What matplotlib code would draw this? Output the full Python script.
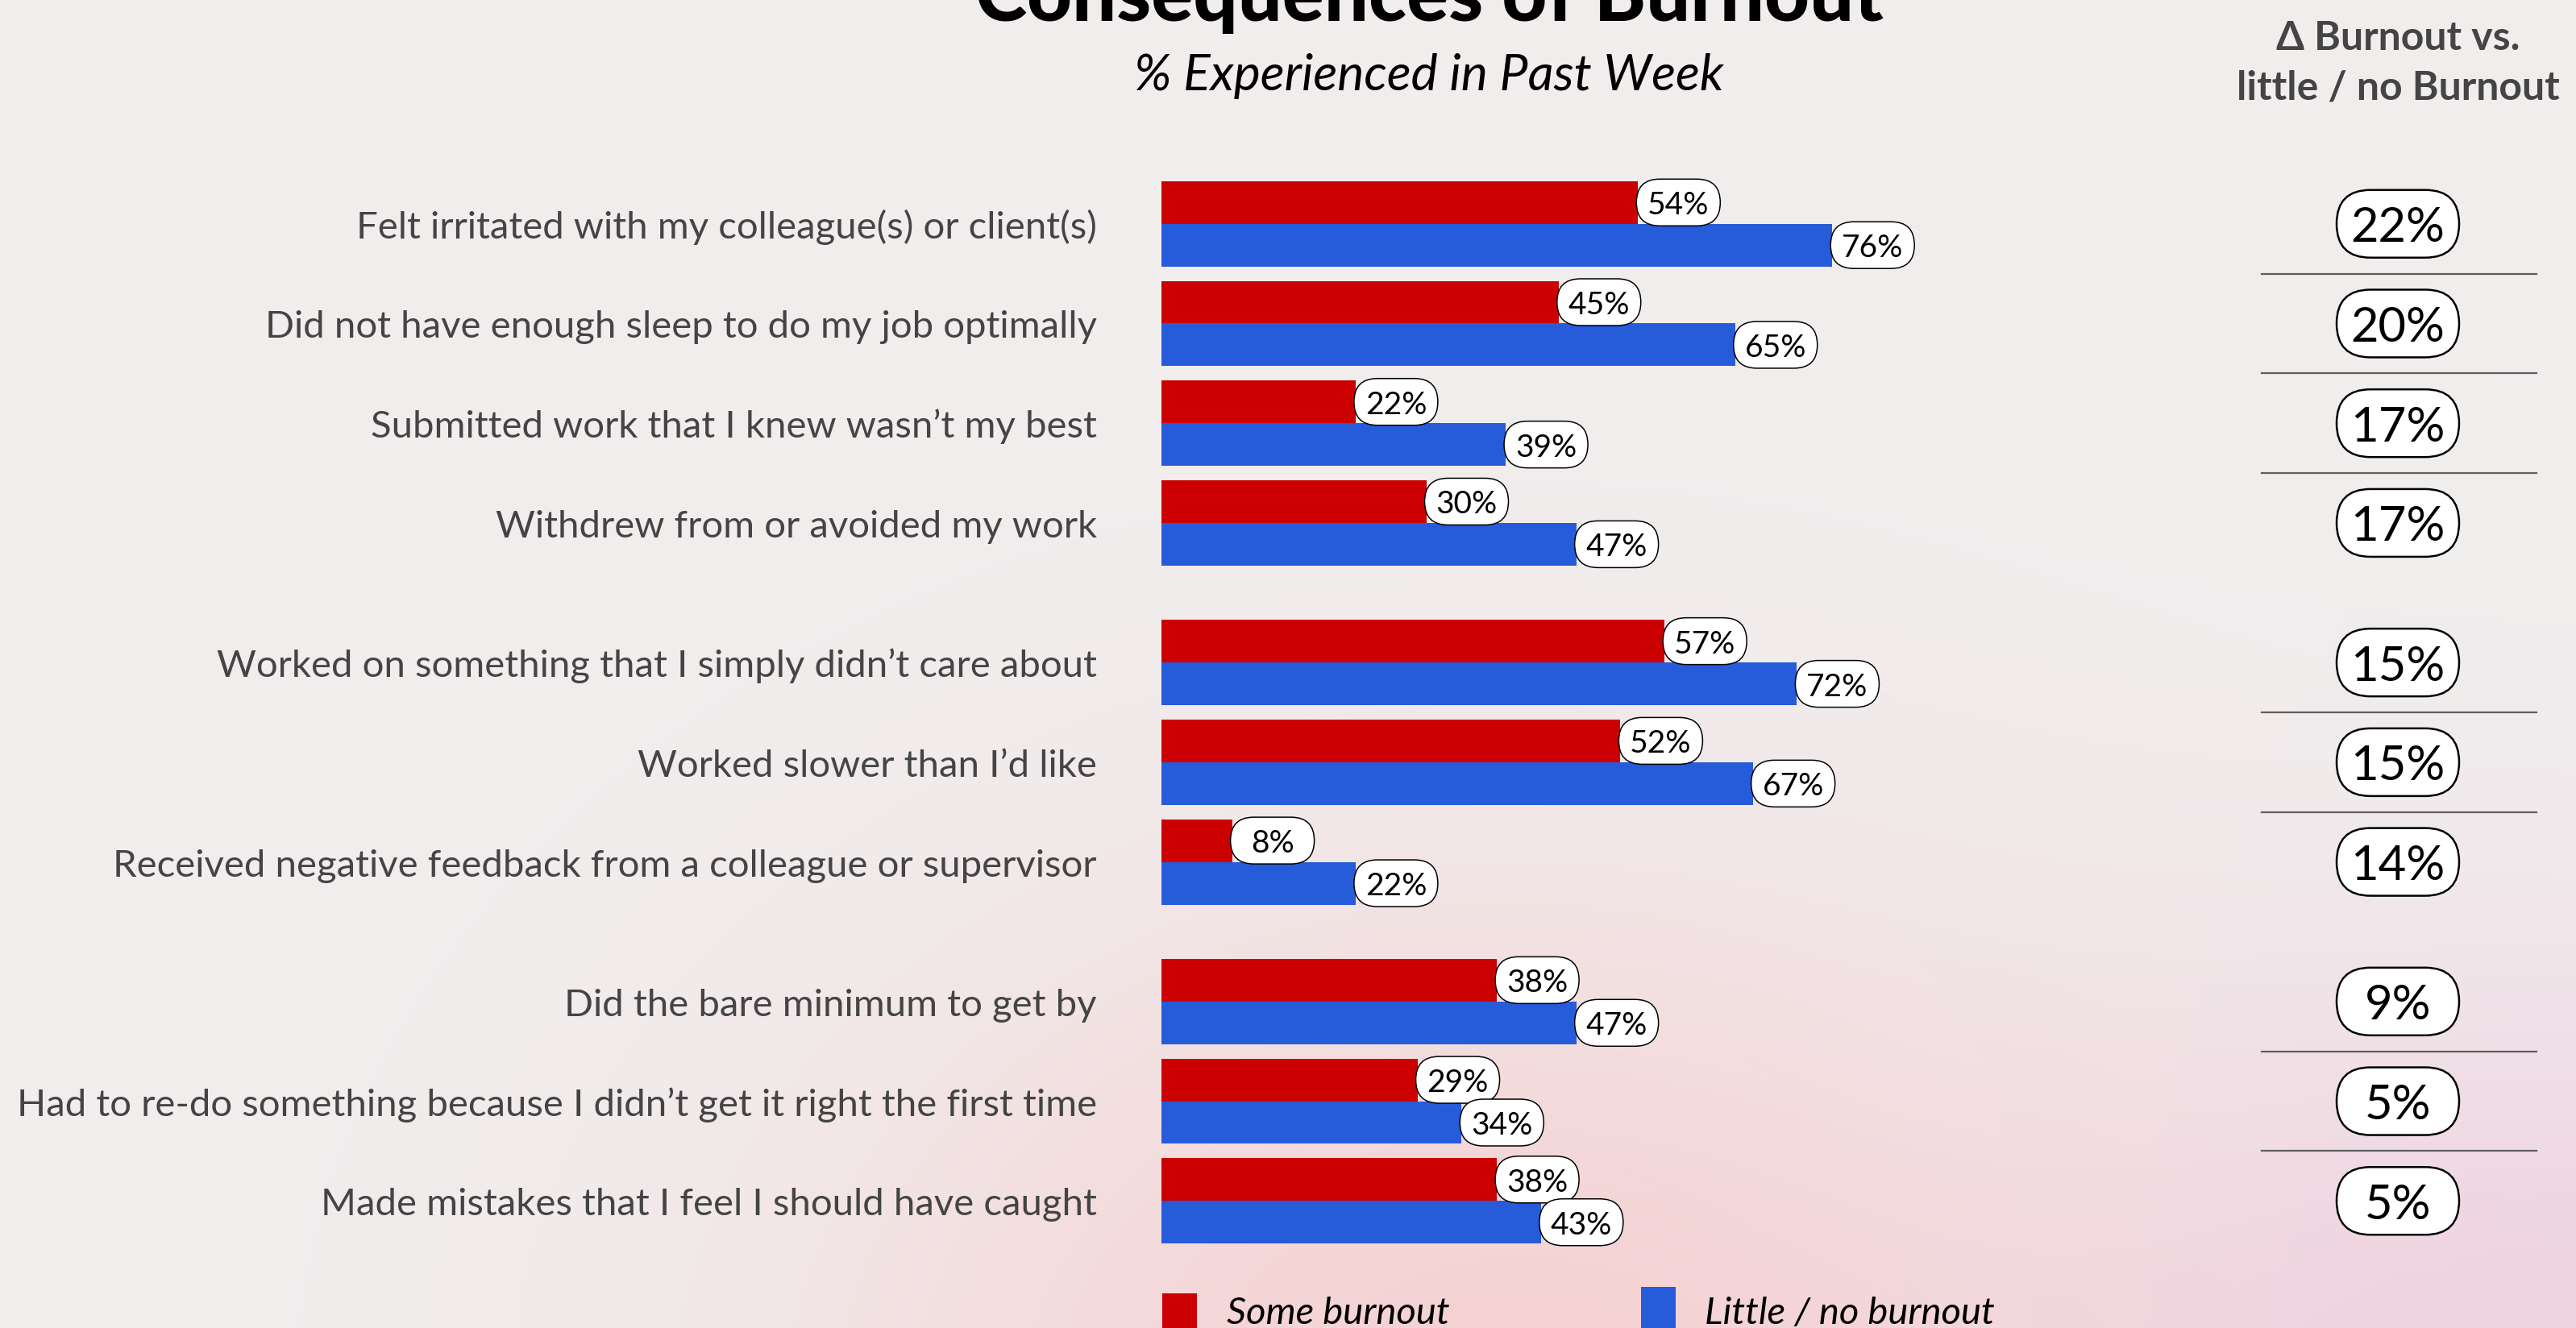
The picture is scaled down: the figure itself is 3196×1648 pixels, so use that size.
import numpy as np
import matplotlib
matplotlib.use("Agg")
import matplotlib.pyplot as plt
from matplotlib.patches import FancyBboxPatch, Rectangle
from matplotlib.transforms import ScaledTranslation, blended_transform_factory

# ---- data -----------------------------------------------------------------
categories = [
    "Felt irritated with my colleague(s) or client(s)",
    "Did not have enough sleep to do my job optimally",
    "Submitted work that I knew wasn’t my best",
    "Withdrew from or avoided my work",
    "Worked on something that I simply didn’t care about",
    "Worked slower than I’d like",
    "Received negative feedback from a colleague or supervisor",
    "Did the bare minimum to get by",
    "Had to re-do something because I didn’t get it right the first time",
    "Made mistakes that I feel I should have caught",
]
some_burnout = [54, 45, 22, 30, 57, 52, 8, 38, 29, 38]
little_burnout = [76, 65, 39, 47, 72, 67, 22, 47, 34, 43]
groups = [0, 0, 0, 0, 1, 1, 1, 2, 2, 2]
series_names = ["Some burnout", "Little / no burnout"]

title = "Consequences of Burnout"
subtitle = "% Experienced in Past Week"
delta_header = ["Δ Burnout vs.", "little / no Burnout"]

# ---- style ----------------------------------------------------------------
RED = "#CC0000"
BLUE = "#265BDA"
GREY_TEXT = "#444444"
FONT = ["Lato", "DejaVu Sans"]
plt.rcParams["font.family"] = FONT

W, H, DPI = 3196, 1649, 100
fig = plt.figure(figsize=(W / DPI, H / DPI), dpi=DPI)
fig.patch.set_facecolor("#F1EEEE")


def fx(px):
    return px / W


def fy(py):
    return 1 - py / H


# ---- soft background wash ---------------------------------------------------
bg = fig.add_axes([0, 0, 1, 1], zorder=-10)
bg.axis("off")
gx, gy = np.meshgrid(np.linspace(0, W, 320), np.linspace(0, H, 165))
base = np.array([241, 238, 238]) / 255
pink = np.array([245, 210, 211]) / 255
lav = np.array([238, 211, 226]) / 255
w1 = np.exp(-((gx - 1850) / 820) ** 2 - ((gy - 1760) / 640) ** 2)
w2 = np.exp(-((gx - 3250) / 700) ** 2 - ((gy - 1750) / 520) ** 2)
img = base + w1[..., None] * (pink - base) + w2[..., None] * (lav - base)
bg.imshow(np.clip(img, 0, 1), extent=(0, W, H, 0), aspect="auto",
          interpolation="bilinear")
bg.set_xlim(0, W)
bg.set_ylim(H, 0)

# ---- bars -------------------------------------------------------------------
ax = fig.add_axes([fx(1441), fy(1615), 1095 / W, 1460 / H])
ax.patch.set_alpha(0)
ax.axis("off")

n = len(categories)
ypos = np.arange(n) + 0.4 * np.array(groups)
bh = 0.428
some = np.array(some_burnout)
little = np.array(little_burnout)
delta = little - some

ax.barh(ypos - bh / 2, some, height=bh, color=RED, zorder=2)
ax.barh(ypos + bh / 2, little, height=bh, color=BLUE, zorder=2)
ax.set_xlim(0, 100)
ax.set_ylim(10.8, -1)


def pill(x, y, text, trans, left, width, height, fs, lw):
    """Rounded label box whose size is given in inches, anchored at (x, y)."""
    off = fig.dpi_scale_trans + ScaledTranslation(x, y, trans)
    box = FancyBboxPatch((left, -height / 2), width, height,
                         boxstyle=f"round,pad=0,rounding_size={height / 2}",
                         transform=off, facecolor="white", edgecolor="black",
                         linewidth=lw, zorder=3, clip_on=False)
    ax.add_artist(box)
    ax.annotate(text, xy=(x, y), xycoords=trans,
                xytext=((left + width / 2) * 72, -0.36 * fs),
                textcoords="offset points", ha="center", va="baseline",
                fontsize=fs, color="black", zorder=4, annotation_clip=False)


# value labels at the bar ends
for yv, s, l in zip(ypos, some, little):
    pill(s, yv - bh / 2, f"{s}%", ax.transData, -0.02, 1.04, 0.58, 28, 1.1)
    pill(l, yv + bh / 2, f"{l}%", ax.transData, -0.02, 1.04, 0.58, 28, 1.1)

# category labels
blend = blended_transform_factory(fig.transFigure, ax.transData)
for yv, cat in zip(ypos, categories):
    ax.annotate(cat, xy=(fx(1361), yv), xycoords=blend,
                xytext=(0, -0.36 * 34), textcoords="offset points",
                ha="right", va="baseline", fontsize=34, fontweight="normal",
                color=GREY_TEXT, annotation_clip=False)

# difference column
xc = fx(2975)
for yv, d in zip(ypos, delta):
    pill(xc, yv, f"{d}%", blend, -0.76, 1.52, 0.84, 43, 1.8)
for i in range(n - 1):
    if groups[i] == groups[i + 1]:
        ym = (ypos[i] + ypos[i + 1]) / 2
        ax.plot([fx(2806), fx(3147)], [ym, ym], transform=blend,
                color="#5E5E5E", linewidth=1.6, clip_on=False)

# ---- titles -----------------------------------------------------------------
fig.text(fx(1773), fy(26), title, ha="center", va="baseline",
         fontsize=70, fontweight="black", color="black")
fig.text(fx(1773), fy(112), subtitle, ha="center", va="baseline",
         fontsize=45, style="italic", color="black")
fig.text(xc, fy(62), delta_header[0], ha="center", va="baseline",
         fontsize=36, fontweight="bold", color=GREY_TEXT)
fig.text(xc, fy(123), delta_header[1], ha="center", va="baseline",
         fontsize=36, fontweight="bold", color=GREY_TEXT)

# ---- legend -----------------------------------------------------------------
for (sx, stop, tx), col, name in zip([(1442, 1606, 1522), (2036, 1598, 2115)],
                                     [RED, BLUE], series_names):
    fig.patches.append(Rectangle((fx(sx), fy(H + 5)), 43 / W, (H + 5 - stop) / H,
                                 transform=fig.transFigure, facecolor=col,
                                 edgecolor="none"))
    fig.text(fx(tx), fy(1643), name, ha="left", va="baseline", fontsize=34,
             style="italic", color="black")

fig.savefig("out.png", dpi=DPI, facecolor=fig.get_facecolor())
